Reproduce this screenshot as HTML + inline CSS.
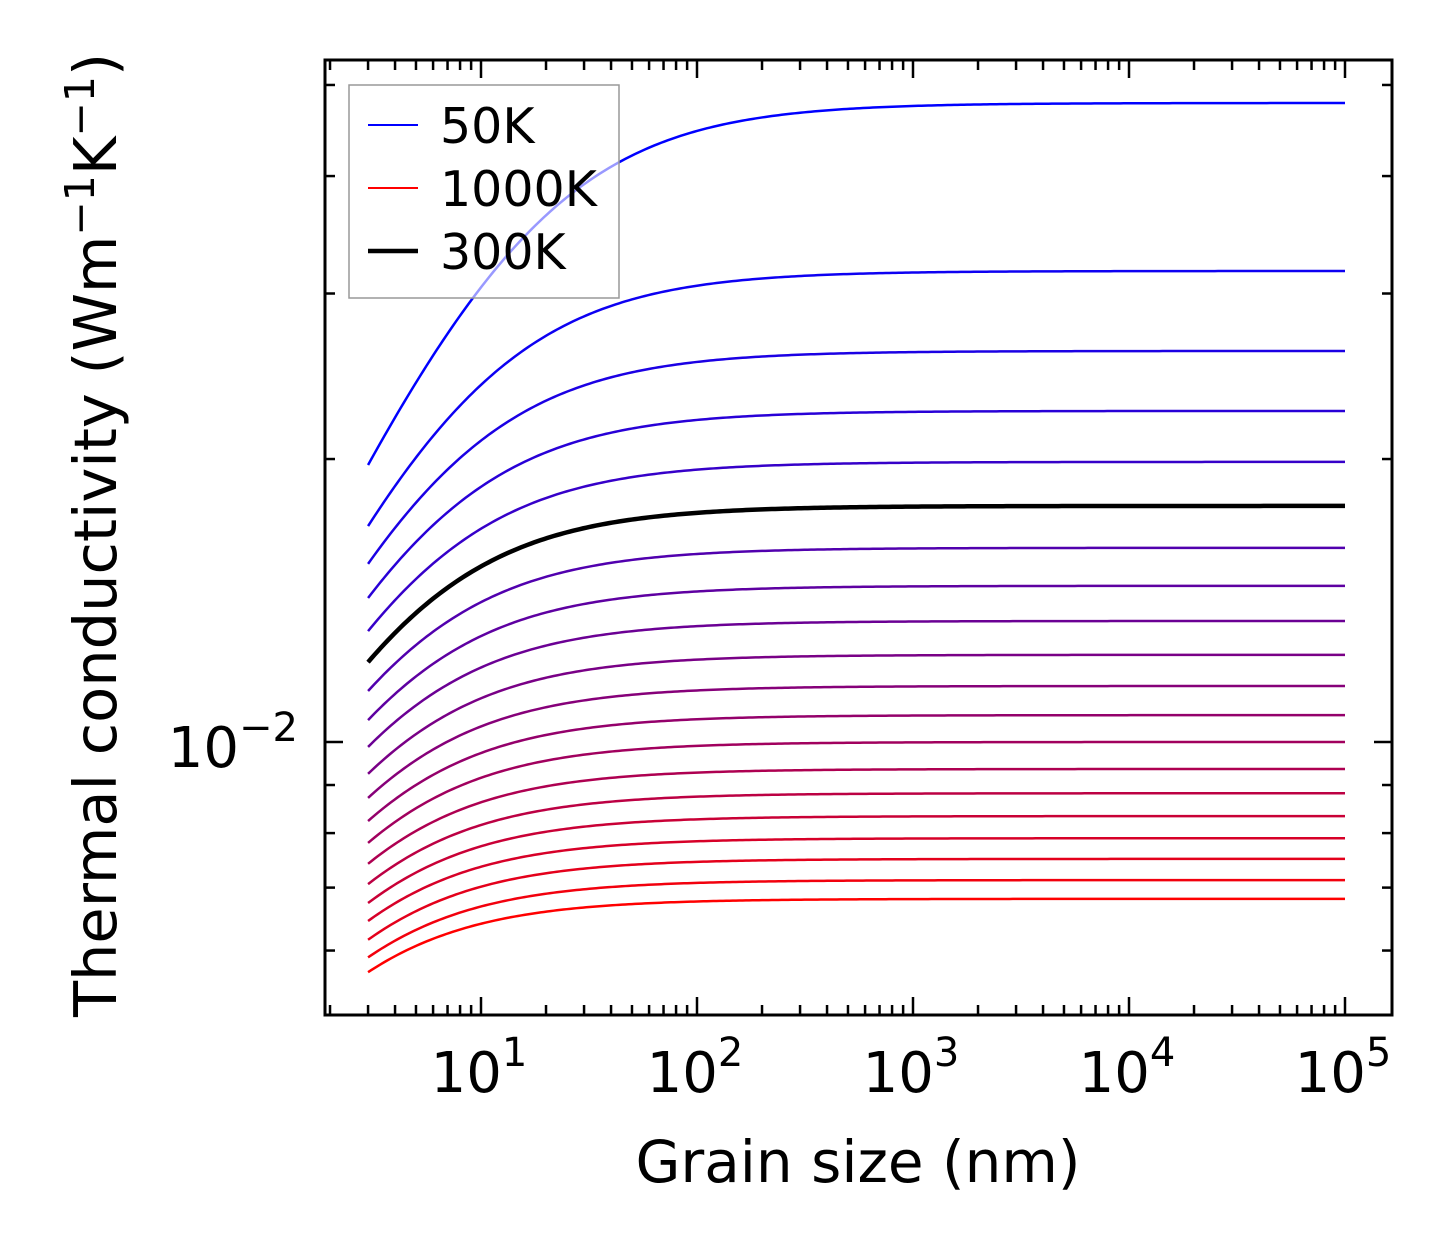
<!DOCTYPE html>
<html><head><meta charset="utf-8"><style>
html,body{margin:0;padding:0;background:#fff;}
svg{display:block;font-family:"DejaVu Sans","Liberation Sans",sans-serif;}
</style></head><body>
<svg id="chart" width="1454" height="1254" viewBox="0 0 1454 1254">
<rect width="1454" height="1254" fill="#fff"/>
<g id="curves"></g>
<g id="ticks"></g>
<rect x="325" y="60" width="1067" height="955" fill="none" stroke="#000" stroke-width="3"/>
<g id="labels"></g>
<text x="858" y="1182" font-size="58" text-anchor="middle">Grain size (nm)</text>
<text transform="translate(116,535) rotate(-90)" font-size="59" text-anchor="middle">Thermal conductivity (Wm<tspan dy="-22" font-size="41">−1</tspan><tspan dy="22">K</tspan><tspan dy="-22" font-size="41">−1</tspan><tspan dy="22">)</tspan></text>
<g>
<rect x="349" y="85" width="270" height="213" fill="#fff" fill-opacity="0.6" stroke="#999" stroke-width="1.5"/>
<line x1="368" y1="125" x2="418" y2="125" stroke="#0000ff" stroke-width="2"/>
<text x="440" y="143" font-size="49">50K</text>
<line x1="368" y1="188" x2="418" y2="188" stroke="#ff0000" stroke-width="2"/>
<text x="440" y="206" font-size="49">1000K</text>
<line x1="368" y1="251" x2="418" y2="251" stroke="#000" stroke-width="4.5"/>
<text x="440" y="269" font-size="49">300K</text>
</g>
</svg>
<script>
const temperatures = [50,100,150,200,250,300,350,400,450,500,550,600,650,700,750,800,850,900,950,1000];
const kPlateau = [0.04784,0.03170,0.02606,0.02250,0.01986,0.01783,0.01609,0.01466,0.01345,0.01238,0.01147,0.01068,0.01000,0.00936,0.00882,0.00834,0.00790,0.00751,0.00713,0.00681];
const kAt3nm = [0.01971,0.01697,0.01547,0.01423,0.01312,0.01216,0.01133,0.01055,0.00988,0.00925,0.00872,0.00824,0.00781,0.00742,0.00706,0.00674,0.00645,0.00616,0.00590,0.00569];
const grainMin = 3, grainMax = 1e5;
const xTickExps = [1,2,3,4,5];
const yMajorTicks = [0.01];
const yMinorTicks = [0.006,0.007,0.008,0.009,0.02,0.03,0.04,0.05];

const NS = "http://www.w3.org/2000/svg";
const X0 = 481, XD = 216, Y0 = 742, YD = 940;
const L = 325, R = 1392, T = 60, B = 1015;
function xs(v){ return X0 + (Math.log10(v) - 1) * XD; }
function ys(v){ return Y0 - (Math.log10(v) + 2) * YD; }
function mk(tag, attrs, parent){ const e = document.createElementNS(NS, tag); for (const k in attrs) e.setAttribute(k, attrs[k]); parent.appendChild(e); return e; }

function curveVal(i, Lg){ const r = kPlateau[i] / kAt3nm[i]; const b = grainMin * (r * r - 1); return kPlateau[i] / Math.sqrt(1 + b / Lg); }
const curves = document.getElementById('curves');
const n = temperatures.length;
function pathFor(i){ let d = ''; const steps = 300; for (let s = 0; s <= steps; s++){ const lg = Math.log10(grainMin) + (Math.log10(grainMax) - Math.log10(grainMin)) * s / steps; const v = curveVal(i, Math.pow(10, lg)); d += (s ? 'L' : 'M') + xs(Math.pow(10, lg)).toFixed(2) + ',' + ys(v).toFixed(2); } return d; }
for (let i = 0; i < n; i++){
  const t = i / (n - 1);
  const col = 'rgb(' + Math.round(255 * t) + ',0,' + Math.round(255 * (1 - t)) + ')';
  const p = mk('path', {d: pathFor(i), fill: 'none', stroke: col, 'stroke-width': 2.5}, curves);
  
  
}
const i300 = temperatures.indexOf(300);
const bp = mk('path', {d: pathFor(i300), fill: 'none', stroke: '#000', 'stroke-width': 4.5}, curves);



const ticks = document.getElementById('ticks');
const labels = document.getElementById('labels');
function tick(x1, y1, x2, y2){ const l = mk('line', {x1, y1, x2, y2, stroke: '#000', 'stroke-width': 2.5}, ticks);   }
for (let e = 0; e <= 5; e++){
  for (let m = 1; m <= 9; m++){
    const v = m * Math.pow(10, e); const x = xs(v);
    if (x < L + 1 || x > R - 1) continue;
    const len = m === 1 ? 18 : 10;
    tick(x, B, x, B - len); tick(x, T, x, T + len);
  }
}
xTickExps.forEach(e => {
  const t = mk('text', {x: xs(Math.pow(10, e)) - 2, y: 1092, 'font-size': 56, 'text-anchor': 'middle'}, labels);
  
  
  t.innerHTML = '10<tspan dy="-26" font-size="40">' + e + '</tspan>';
});
yMajorTicks.forEach(v => {
  const y = ys(v); tick(L, y, L + 18, y); tick(R, y, R - 18, y);
  const t = mk('text', {x: 298, y: y + 25, 'font-size': 56, 'text-anchor': 'end'}, labels);
  
  
  t.innerHTML = '10<tspan dy="-26" font-size="40">−2</tspan>';
});
yMinorTicks.forEach(v => { const y = ys(v); tick(L, y, L + 10, y); tick(R, y, R - 10, y); });
</script>
</body></html>
